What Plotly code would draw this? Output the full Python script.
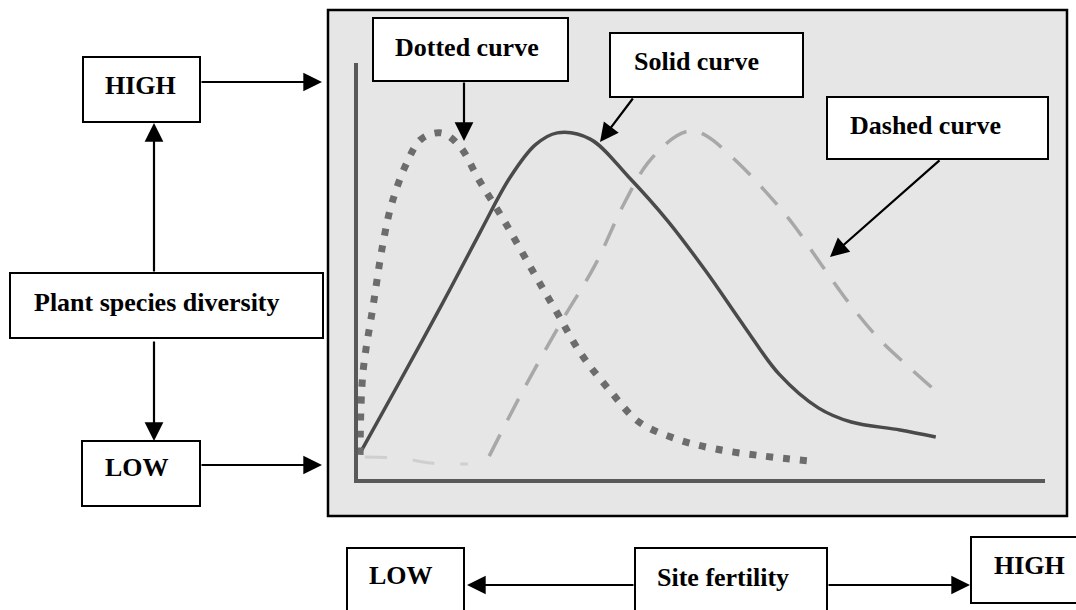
import plotly.graph_objects as go

W, H = 1076, 610

# curves: site fertility (0-10) vs plant species diversity (0-10)
solid_x = [0.04, 0.58, 1.21, 1.78, 2.21, 2.58, 2.90, 3.38, 3.94, 4.51, 5.07, 5.63, 6.13, 6.70, 7.18, 7.89, 8.41]
solid_y = [0.65, 2.26, 4.16, 5.94, 7.24, 8.03, 8.32, 8.17, 7.26, 6.20, 4.98, 3.65, 2.52, 1.71, 1.37, 1.18, 1.01]

dotted_x = [0.03, 0.07, 0.22, 0.36, 0.49, 0.71, 0.92, 1.21, 1.48, 1.76, 2.13, 2.55, 2.90, 3.25,
            3.67, 4.09, 4.64, 5.21, 5.91, 6.58]
dotted_y = [0.58, 2.52, 4.16, 5.63, 6.61, 7.60, 8.17, 8.32, 8.00, 7.19, 6.20, 4.98, 3.99, 3.00,
            2.12, 1.37, 0.96, 0.72, 0.55, 0.43]

# faint start of the dashed curve along the bottom, then the main dashed hump
dashed_base_x = [0.10, 0.60, 1.10, 1.60]
dashed_base_y = [0.53, 0.50, 0.38, 0.36]
dashed_x = [1.91, 2.40, 2.95, 3.45, 3.87, 4.22, 4.64, 4.86, 5.07, 5.49, 5.91,
            6.33, 6.75, 7.18, 7.60, 8.02, 8.49]
dashed_y = [0.55, 2.12, 3.75, 5.14, 6.61, 7.60, 8.25, 8.37, 8.25, 7.67, 6.95,
            6.13, 5.14, 4.16, 3.34, 2.69, 2.00]

labels = ["HIGH", "Plant species diversity", "LOW", "Dotted curve", "Solid curve",
          "Dashed curve", "LOW", "Site fertility", "HIGH"]


def px(x):
    return x / W


def py(y):
    return 1 - y / H


fig = go.Figure()

fig.add_trace(go.Scatter(x=dashed_base_x, y=dashed_base_y, mode="lines", line_shape="spline",
                         line=dict(color="#cfcfcf", width=3, dash="22px,26px")))
fig.add_trace(go.Scatter(x=dashed_x, y=dashed_y, mode="lines", line_shape="spline",
                         line=dict(color="#a8a8a8", width=3.5, dash="24px,16px")))
fig.add_trace(go.Scatter(x=solid_x, y=solid_y, mode="lines", line_shape="spline",
                         line=dict(color="#4a4a4a", width=3.5)))
fig.add_trace(go.Scatter(x=dotted_x, y=dotted_y, mode="lines", line_shape="spline",
                         line=dict(color="#6c6c6c", width=7, dash="7px,10px")))

# the scanned graph panel
shapes = [dict(type="rect", xref="paper", yref="paper", layer="below",
               x0=px(328), x1=px(1067), y0=py(516), y1=py(10),
               fillcolor="#e6e6e6", line=dict(color="black", width=2.5))]

# text boxes: (x0, y0, x1, y1, text left, text middle) in pixels
box_pos = [
    (83, 57, 200, 122, 103, 85),
    (10, 273, 323, 338, 32, 302),
    (82, 441, 200, 506, 103, 467),
    (373, 18, 568, 81, 393, 47),
    (610, 33, 803, 97, 632, 62),
    (827, 97, 1048, 159, 848, 125),
    (347, 548, 464, 620, 367, 575),
    (635, 548, 827, 620, 655, 577),
    (971, 537, 1090, 603, 992, 565),
]

annotations = []
font = dict(family="Liberation Serif, Times New Roman, serif", size=26, color="black", weight="bold")
for text, (x0, y0, x1, y1, tx, ty) in zip(labels, box_pos):
    shapes.append(dict(type="rect", xref="paper", yref="paper", layer="above",
                       x0=px(x0), x1=px(x1), y0=py(y1), y1=py(y0),
                       fillcolor="white", line=dict(color="black", width=2)))
    annotations.append(dict(xref="paper", yref="paper", x=px(tx), y=py(ty), text=text,
                            xanchor="left", yanchor="middle", showarrow=False, font=font))

# arrows: (tail x, tail y, tip x, tip y) in pixels
arrows = [
    (200, 82, 322, 82),
    (200, 465, 322, 465),
    (154, 273, 154, 123),
    (154, 340, 154, 441),
    (464, 81, 464, 141),
    (634, 97, 600, 142),
    (941, 159, 830, 257),
    (635, 585, 467, 585),
    (827, 585, 970, 585),
]
for x0, y0, x1, y1 in arrows:
    annotations.append(dict(xref="paper", yref="paper", x=px(x1), y=py(y1),
                            ax=x0 - x1, ay=y0 - y1, axref="pixel", ayref="pixel",
                            text="", showarrow=True, arrowhead=2, arrowsize=1.7,
                            arrowwidth=2.2, arrowcolor="black"))

fig.update_layout(
    width=W, height=H,
    margin=dict(l=0, r=0, t=0, b=0),
    paper_bgcolor="white",
    plot_bgcolor="rgba(0,0,0,0)",
    showlegend=False,
    shapes=shapes,
    annotations=annotations,
    xaxis=dict(domain=[px(358), px(1045)], range=[0, 10], showline=True, linecolor="#595959",
               linewidth=4, showgrid=False, zeroline=False, showticklabels=False, ticks=""),
    yaxis=dict(domain=[py(479), py(63)], range=[0, 10], showline=True, linecolor="#595959",
               linewidth=4, showgrid=False, zeroline=False, showticklabels=False, ticks=""),
)

# page body margin would push the figure 8px off the window corner
fig.write_html("out.html", config={"displayModeBar": False},
               post_script="document.body.style.margin = '0';")
